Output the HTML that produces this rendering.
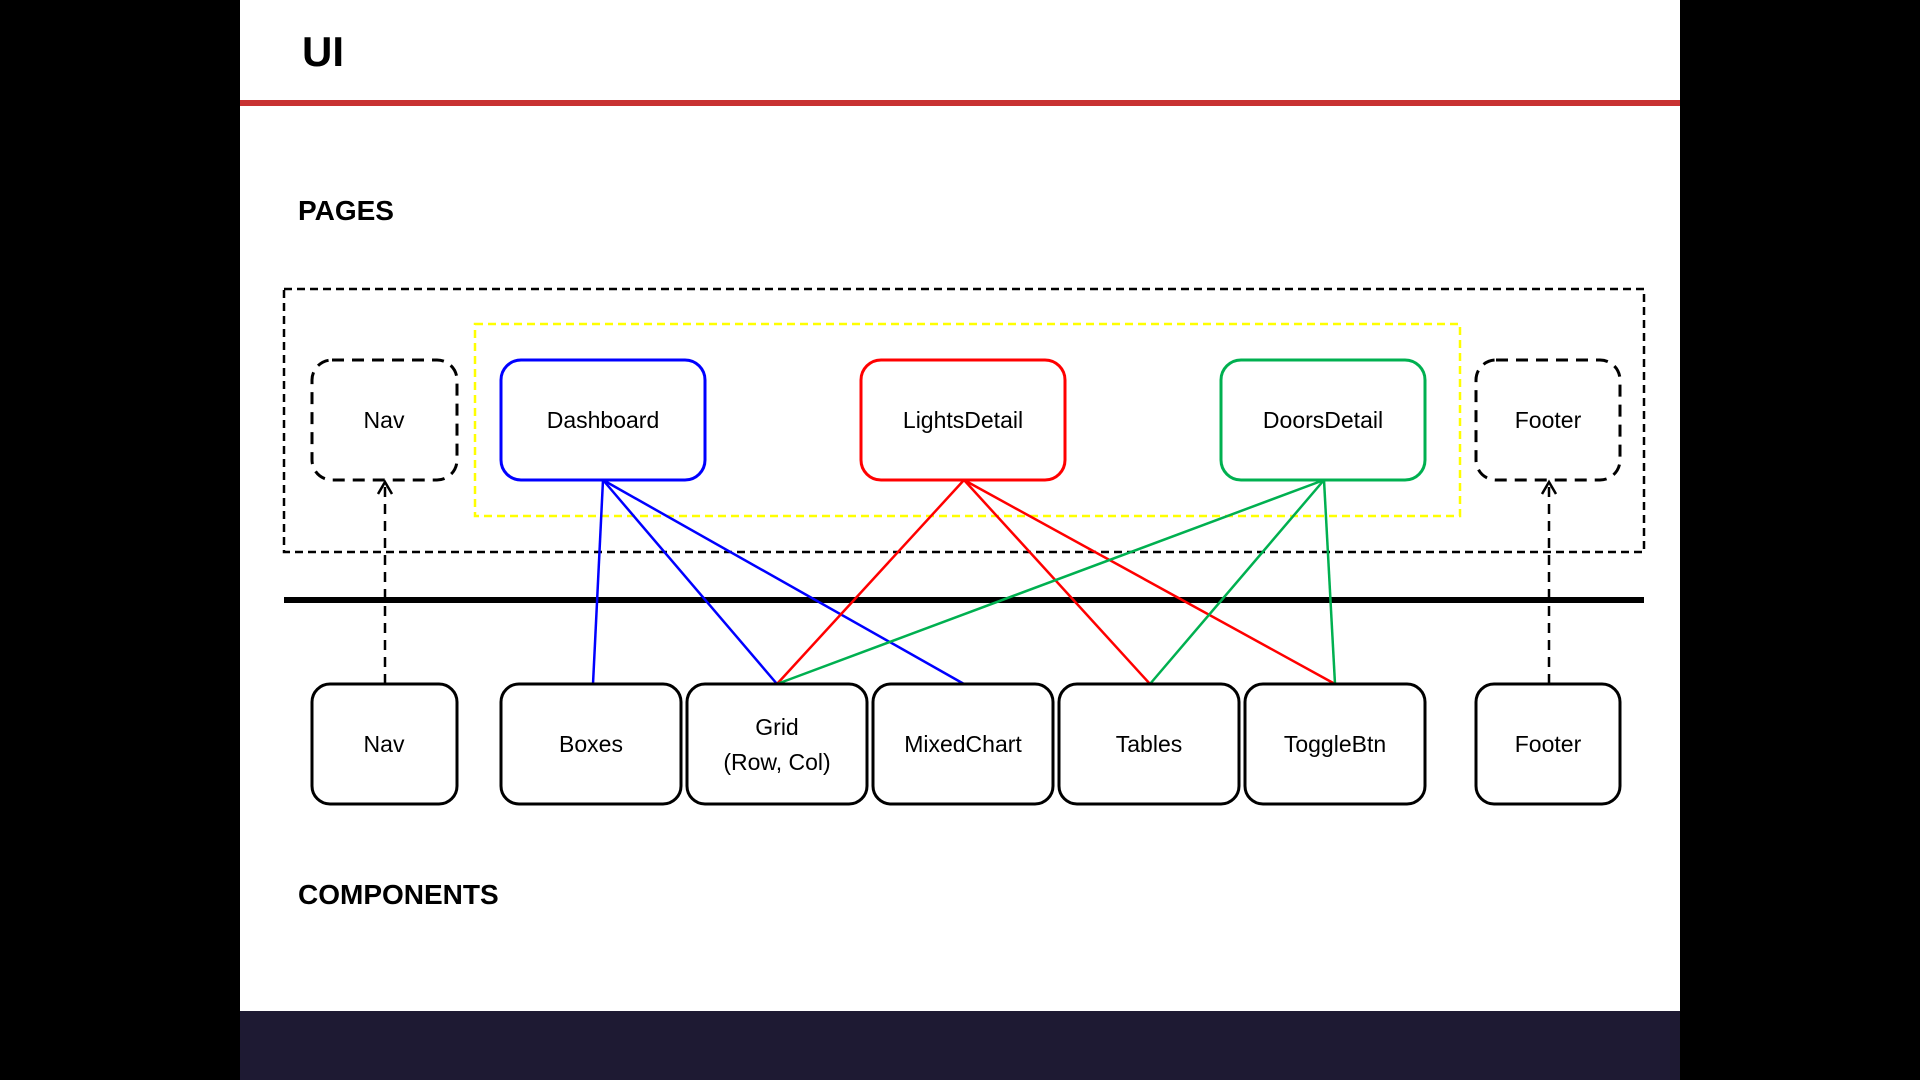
<!DOCTYPE html>
<html><head><meta charset="utf-8"><style>
html,body{margin:0;padding:0;background:#000;}
svg{display:block}
text{font-family:"Liberation Sans",sans-serif;}
</style></head><body>
<svg width="1920" height="1080" viewBox="0 0 1920 1080" xmlns="http://www.w3.org/2000/svg">
<rect x="0" y="0" width="1920" height="1080" fill="#000"/>
<rect x="240" y="0" width="1440" height="1080" fill="#fff"/>
<rect x="240" y="1011" width="1440" height="69" fill="#1e1a33"/>
<rect x="240" y="100" width="1440" height="6" fill="#c83232"/>
<text x="302" y="66" font-size="42" font-weight="bold">UI</text>
<text x="298" y="220" font-size="28" font-weight="bold">PAGES</text>
<text x="298" y="904" font-size="28" font-weight="bold">COMPONENTS</text>
<rect x="284" y="289" width="1360" height="263" fill="none" stroke="#000" stroke-width="2.5" stroke-dasharray="8,5"/>
<rect x="475" y="324" width="985" height="192" fill="none" stroke="#ffff00" stroke-width="2.5" stroke-dasharray="8,5"/>
<rect x="284" y="597" width="1360" height="6" fill="#000"/>
<g stroke-width="2.5" fill="none">
<g stroke="#0000ff">
<line x1="603" y1="480" x2="593" y2="684"/><line x1="603" y1="480" x2="777" y2="684"/><line x1="603" y1="480" x2="964" y2="684"/>
</g>
<g stroke="#ff0000">
<line x1="964" y1="480" x2="777" y2="684"/><line x1="964" y1="480" x2="1150" y2="684"/><line x1="964" y1="480" x2="1335" y2="684"/>
</g>
<g stroke="#00b050">
<line x1="1324" y1="480" x2="777" y2="684"/><line x1="1324" y1="480" x2="1150" y2="684"/><line x1="1324" y1="480" x2="1335" y2="684"/>
</g>
<g stroke="#000" stroke-dasharray="10,7">
<line x1="385" y1="684" x2="385" y2="484"/><line x1="1549" y1="684" x2="1549" y2="484"/>
</g>
<g stroke="#000"><polyline points="378,494 385,482 392,494"/><polyline points="1542,494 1549,482 1556,494"/></g>
<g stroke="#000" stroke-width="3" stroke-dasharray="12,8">
<rect x="312" y="360" width="145" height="120" rx="20"/><rect x="1476" y="360" width="144" height="120" rx="20"/>
</g>
<rect x="501" y="360" width="204" height="120" rx="20" stroke="#0000ff" stroke-width="3" fill="#fff"/>
<rect x="861" y="360" width="204" height="120" rx="20" stroke="#ff0000" stroke-width="3" fill="#fff"/>
<rect x="1221" y="360" width="204" height="120" rx="20" stroke="#00b050" stroke-width="3" fill="#fff"/>
<g stroke="#000" stroke-width="3" fill="#fff">
<rect x="312" y="684" width="145" height="120" rx="18"/>
<rect x="501" y="684" width="180" height="120" rx="18"/>
<rect x="687" y="684" width="180" height="120" rx="18"/>
<rect x="873" y="684" width="180" height="120" rx="18"/>
<rect x="1059" y="684" width="180" height="120" rx="18"/>
<rect x="1245" y="684" width="180" height="120" rx="18"/>
<rect x="1476" y="684" width="144" height="120" rx="18"/>
</g>
</g>
<g font-size="23" text-anchor="middle" fill="#000">
<text x="384" y="428">Nav</text>
<text x="603" y="428">Dashboard</text>
<text x="963" y="428">LightsDetail</text>
<text x="1323" y="428">DoorsDetail</text>
<text x="1548" y="428">Footer</text>
<text x="384" y="752">Nav</text>
<text x="591" y="752">Boxes</text>
<text x="777" y="735">Grid</text>
<text x="777" y="770">(Row, Col)</text>
<text x="963" y="752">MixedChart</text>
<text x="1149" y="752">Tables</text>
<text x="1335" y="752">ToggleBtn</text>
<text x="1548" y="752">Footer</text>
</g>
</svg>
</body></html>
